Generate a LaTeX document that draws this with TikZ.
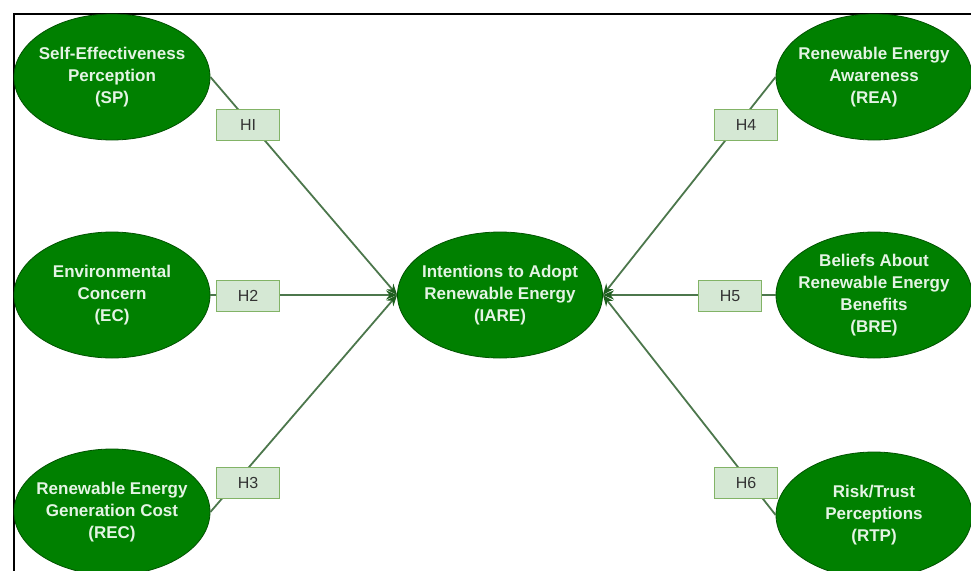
\documentclass[tikz,border=0pt]{standalone}
\usepackage{fontspec}
\setmainfont{Liberation Sans}
\usepackage{tikz}
\usetikzlibrary{shapes.geometric,arrows.meta}
\definecolor{IAREGreen}{HTML}{008000}
\definecolor{IAREEdge}{HTML}{005200}
\definecolor{IARELink}{HTML}{4C774C}
\definecolor{IAREHead}{HTML}{1E5E1E}
\definecolor{IAREText}{HTML}{E4F4E4}
\definecolor{HypFill}{HTML}{D5E8D4}
\definecolor{HypLine}{HTML}{82B366}

\begin{document}
\begin{tikzpicture}[x=1pt,y=-1pt,>={Stealth[length=11pt,width=9pt,color=IAREHead]}]
  \tikzstyle{construct}=[ellipse,draw=IAREEdge,fill=IAREGreen,line width=0.8pt,
    minimum width=196pt,minimum height=126pt,inner sep=-7pt,align=center,
    text=IAREText,font=\fontsize{17}{22}\selectfont\bfseries]
  \tikzstyle{hyp}=[draw=HypLine,fill=HypFill,line width=0.8pt,
    minimum width=63pt,minimum height=31pt,inner sep=0pt,
    text=black!80,font=\fontsize{16}{19}\selectfont]
  \tikzstyle{link}=[->,line width=1.8pt,color=IARELink]
  \useasboundingbox (0,0) rectangle (971,570);
  \draw[line width=2pt] (14,576) -- (14,14) -- (977,14);
  \node[construct] (sp) at (112,77) {Self-Effectiveness\\Perception\\(SP)};
  \node[construct] (ec) at (112,295) {Environmental\\Concern\\(EC)};
  \node[construct] (rec) at (112,512) {Renewable Energy\\Generation Cost\\(REC)};
  \node[construct] (rea) at (874,77) {Renewable Energy\\Awareness\\(REA)};
  \node[construct] (bre) at (874,295) {Beliefs About\\Renewable Energy\\Benefits\\(BRE)};
  \node[construct] (rtp) at (874,515) {Risk/Trust\\Perceptions\\(RTP)};
  \node[construct,minimum width=205pt] (iare) at (500,295)
    {Intentions to Adopt\\Renewable Energy\\(IARE)};
  \draw[link] (sp.east)--(iare.west);
  \draw[link] (ec.east)--(iare.west);
  \draw[link] (rec.east)--(iare.west);
  \draw[link] (rea.west)--(iare.east);
  \draw[link] (bre.west)--(iare.east);
  \draw[link] (rtp.west)--(iare.east);
  \node[hyp] (h1) at (248,125) {HI};
  \node[hyp] (h2) at (248,296) {H2};
  \node[hyp] (h3) at (248,483) {H3};
  \node[hyp] (h4) at (746,125) {H4};
  \node[hyp] (h5) at (730,296) {H5};
  \node[hyp] (h6) at (746,483) {H6};
\end{tikzpicture}
\end{document}
